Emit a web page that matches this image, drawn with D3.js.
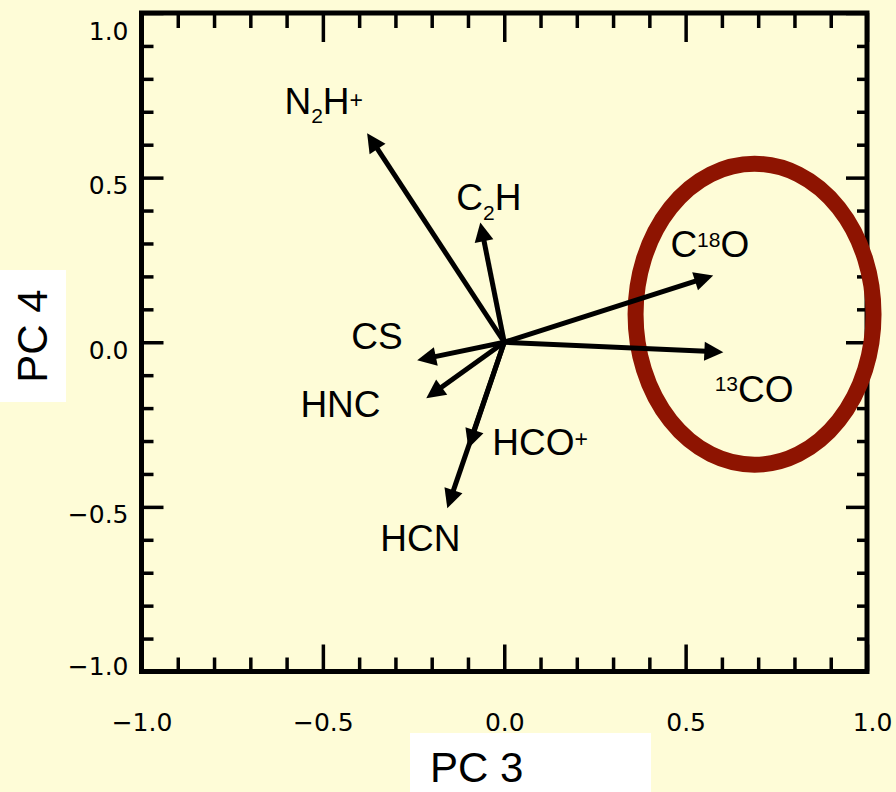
<!DOCTYPE html>
<html>
<head>
<meta charset="utf-8">
<script src="https://cdn.jsdelivr.net/npm/d3@7"></script>
<style>
  html, body { margin: 0; padding: 0; background: #fefcd7; }
  svg { display: block; }
  .tick-label { font-family: "DejaVu Sans", sans-serif; font-size: 25px; font-weight: normal; fill: #000; }
  .species { font-family: "Liberation Sans", Arial, sans-serif; font-size: 37px; fill: #000; }
  .title { font-family: "Liberation Sans", Arial, sans-serif; font-size: 42px; fill: #000; }
</style>
</head>
<body>
<div id="chart"></div>
<script>
// loading vectors of each species on PC 3 / PC 4
var species = ["N2H+", "C2H", "CS", "HNC", "HCO+", "HCN", "C18O", "13CO"];
var pc3 = [-0.378, -0.066, -0.24, -0.215, -0.099, -0.157, 0.576, 0.604];
var pc4 = [0.635, 0.364, -0.055, -0.17, -0.322, -0.504, 0.203, -0.03];

// where each species name sits (data units, left end of text baseline)
var labelX = [-0.606, -0.132, -0.422, -0.562, -0.033, -0.342, 0.458, 0.58];
var labelY = [0.692, 0.401, -0.021, -0.228, -0.343, -0.635, 0.258, -0.182];

var majorTicks = [-1.0, -0.5, 0.0, 0.5, 1.0];
var minorTicks = d3.range(-10, 11).filter((i) => i % 5 !== 0).map((i) => i / 10);

// the highlight ellipse round the CO isotopologues (data units)
var ellipseCenter = [0.69, 0.085];
var ellipseRadii = [0.328, 0.457];

var width = 896,
  height = 792;

var x = d3.scaleLinear().domain([-1, 1]).range([141.5, 867]);
var y = d3.scaleLinear().domain([-1, 1]).range([671.5, 13]);

var svg = d3
  .select("#chart")
  .append("svg")
  .attr("width", width)
  .attr("height", height);

svg.append("rect").attr("width", width).attr("height", height).attr("fill", "#fefcd7");

// ticks on all four sides, pointing inward
function tickAxis(axis, len, values) {
  return axis.tickValues(values).tickSize(-len).tickFormat("");
}
var sides = [
  { ax: () => d3.axisBottom(x), t: `translate(0,${y(-1)})`, minor: 14, major: 27 },
  { ax: () => d3.axisTop(x), t: `translate(0,${y(1)})`, minor: 15, major: 29 },
  { ax: () => d3.axisLeft(y), t: `translate(${x(-1)},0)`, minor: 12, major: 22 },
  { ax: () => d3.axisRight(y), t: `translate(${x(1)},0)`, minor: 10, major: 21 },
];
sides.forEach((s) => {
  [
    [minorTicks, s.minor],
    [majorTicks, s.major],
  ].forEach(([vals, len]) => {
    var g = svg
      .append("g")
      .attr("transform", s.t)
      .call(tickAxis(s.ax(), len, vals));
    g.select(".domain").remove();
    g.selectAll("line").attr("stroke", "#000").attr("stroke-width", 3.5);
  });
});

// frame
svg
  .append("rect")
  .attr("x", x(-1))
  .attr("y", y(1))
  .attr("width", x(1) - x(-1))
  .attr("height", y(-1) - y(1))
  .attr("fill", "none")
  .attr("stroke", "#000")
  .attr("stroke-width", 5);

var fmt = (d) => d3.format(".1f")(d).replace("-", "\u2212");

// tick labels
var xLab = svg
  .append("g")
  .attr("transform", `translate(0,${y(-1)})`)
  .call(d3.axisBottom(x).tickValues(majorTicks).tickSize(0).tickFormat(fmt));
xLab.select(".domain").remove();
xLab
  .selectAll("text")
  .attr("class", "tick-label")
  .attr("y", 59)
  .attr("dy", 0)
  .attr("dx", (d) => (d === 1 ? 5 : 0));

var yLab = svg
  .append("g")
  .attr("transform", `translate(${x(-1)},0)`)
  .call(d3.axisLeft(y).tickValues(majorTicks).tickSize(0).tickFormat(fmt));
yLab.select(".domain").remove();
yLab
  .selectAll("text")
  .attr("class", "tick-label")
  .attr("x", -13)
  .attr("dy", 0)
  .attr("y", (d) => (d === 1 ? 26.5 : d === -1 ? 3 : 16));
svg.selectAll(".tick text").attr("font-size", null).attr("font-family", null).attr("fill", null);

// ellipse
svg
  .append("ellipse")
  .attr("cx", x(ellipseCenter[0]))
  .attr("cy", y(ellipseCenter[1]))
  .attr("rx", x(ellipseRadii[0]) - x(0))
  .attr("ry", y(0) - y(ellipseRadii[1]))
  .attr("fill", "none")
  .attr("stroke", "#8e1401")
  .attr("stroke-width", 16);

// arrows
var HEAD_LEN = 19,
  HEAD_HALF = 9.5;
var arrows = svg.append("g");
species.forEach((name, i) => {
  var x0 = x(0),
    y0 = y(0),
    x1 = x(pc3[i]),
    y1 = y(pc4[i]);
  var a = Math.atan2(y1 - y0, x1 - x0);
  var bx = x1 - HEAD_LEN * Math.cos(a),
    by = y1 - HEAD_LEN * Math.sin(a);
  var px = -Math.sin(a) * HEAD_HALF,
    py = Math.cos(a) * HEAD_HALF;
  arrows
    .append("line")
    .attr("x1", x0)
    .attr("y1", y0)
    .attr("x2", bx + Math.cos(a) * 2)
    .attr("y2", by + Math.sin(a) * 2)
    .attr("stroke", "#000")
    .attr("stroke-width", 5);
  arrows
    .append("path")
    .attr("d", `M${x1},${y1}L${bx + px},${by + py}L${bx - px},${by - py}Z`)
    .attr("fill", "#000");
});

// species names with sub/superscripts
var parts = {
  "N2H+": [["N"], ["2", 9], ["H", -9], ["+", -6]],
  C2H: [["C"], ["2", 10], ["H", -10]],
  CS: [["CS"]],
  HNC: [["HNC"]],
  "HCO+": [["HCO"], ["+", -8]],
  HCN: [["HCN"]],
  C18O: [["C"], ["18", -10], ["O", 10]],
  "13CO": [["13", -11], ["CO", 11]],
};
species.forEach((name, i) => {
  var t = svg
    .append("text")
    .attr("class", "species")
    .attr("x", x(labelX[i]))
    .attr("y", y(labelY[i]));
  var level = 0;
  parts[name].forEach(([s, dy]) => {
    var sp = t.append("tspan").text(s);
    if (dy !== undefined) sp.attr("dy", dy);
    level += dy || 0;
    if (level !== 0) sp.attr("font-size", s === "+" ? 23 : 21);
  });
});

// axis titles on white boxes
svg.append("rect").attr("x", 0).attr("y", 270).attr("width", 66).attr("height", 132).attr("fill", "#fff");
svg
  .append("text")
  .attr("class", "title")
  .attr("text-anchor", "middle")
  .attr("transform", "translate(47,336) rotate(-90)")
  .text("PC 4");

svg.append("rect").attr("x", 410).attr("y", 733).attr("width", 241).attr("height", 59).attr("fill", "#fff");
svg
  .append("text")
  .attr("class", "title")
  .attr("x", 430)
  .attr("y", 782)
  .text("PC 3");
</script>
</body>
</html>
